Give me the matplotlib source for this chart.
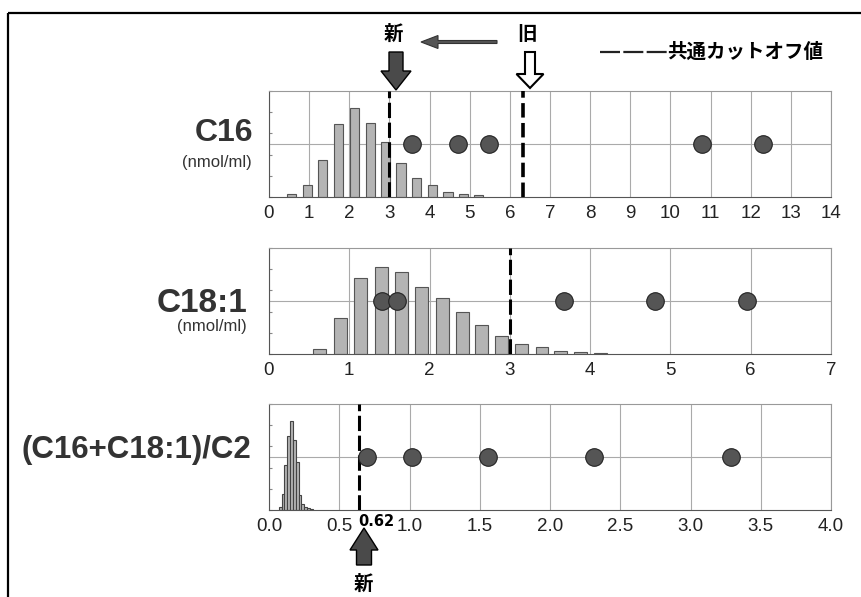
import numpy as np
import matplotlib.pyplot as plt
from matplotlib.patches import FancyArrow, Rectangle

plt.rcParams['font.family'] = ['Liberation Sans', 'Noto Sans CJK JP']

# C16 (nmol/ml)
c16_bins = [0.56, 0.95, 1.34, 1.73, 2.13, 2.52, 2.90, 3.29, 3.68, 4.07, 4.46, 4.85, 5.22]
c16_freq = [3, 11, 35, 69, 84, 70, 52, 32, 18, 11, 5, 3, 1.5]
c16_pts = [3.57, 4.72, 5.48, 10.78, 12.30]
c16_new, c16_old = 3.0, 6.32

# C18:1 (nmol/ml)
c181_bins = [0.63, 0.89, 1.14, 1.40, 1.65, 1.90, 2.16, 2.41, 2.65, 2.90, 3.15, 3.40, 3.63, 3.88, 4.13]
c181_freq = [4.7, 34, 72, 82, 77, 63, 53, 40, 27, 17, 9, 6.5, 3, 1.8, 0.8]
c181_pts = [1.41, 1.60, 3.67, 4.81, 5.95]
c181_new = 3.0

# (C16+C18:1)/C2
ratio_bins = [0.08, 0.10, 0.12, 0.14, 0.16, 0.18, 0.20, 0.22, 0.24, 0.26, 0.28, 0.30]
ratio_freq = [3, 15, 42, 70, 84, 66, 45, 14, 6, 3, 1.5, 0.8]
ratio_pts = [0.70, 1.02, 1.56, 2.31, 3.29]
ratio_new = 0.64

fig = plt.figure(figsize=(8.61, 5.97), dpi=100)

# overlay in pixel coords for frame, labels and arrows
ov = fig.add_axes([0, 0, 1, 1])
ov.set_xlim(0, 861)
ov.set_ylim(597, 0)
ov.axis('off')
ov.add_patch(Rectangle((8, 13), 900, 700, fill=False, ec='black', lw=1.6))


def panel(rect, bins, freq, width, pts, xmax, xticks, xlabels, edge):
    ax = fig.add_axes(rect)
    ax.bar(bins, freq, width=width, color='#b4b4b4', edgecolor=edge, linewidth=0.8, zorder=2)
    ax.scatter(pts, [50] * len(pts), s=160, color='#555555', edgecolor='#222222', linewidth=0.8, zorder=4)
    ax.set_xlim(0, xmax)
    ax.set_ylim(0, 100)
    ax.set_xticks(xticks)
    ax.set_xticklabels(xlabels, fontsize=13.5, color='#222222')
    ax.set_yticks(range(0, 101, 20))
    ax.set_yticklabels([])
    ax.tick_params(axis='x', length=0, pad=6)
    ax.tick_params(axis='y', direction='in', length=2, color='#888888')
    ax.grid(axis='x', color='#aaaaaa', linewidth=0.8, zorder=0)
    ax.axhline(50, color='#aaaaaa', linewidth=0.8, zorder=0)
    for s in ax.spines.values():
        s.set_color('#999999')
        s.set_linewidth(0.8)
    ax.spines['bottom'].set_color('#555555')
    ax.spines['left'].set_color('#555555')
    return ax


left, width = 269 / 861, 562 / 861
h = 106 / 597

ax1 = panel([left, 400 / 597, width, h], c16_bins, c16_freq, 0.23, c16_pts, 14,
            range(0, 15), [str(i) for i in range(15)], '#555555')
ax1.axvline(c16_new, color='black', lw=2.2, ls=(0, (5, 1.5)), zorder=3)
ax1.axvline(c16_old, color='black', lw=2.6, ls=(0, (4, 1.5)), zorder=3, clip_on=False)

ax2 = panel([left, 243 / 597, width, h], c181_bins, c181_freq, 0.16, c181_pts, 7,
            range(0, 8), [str(i) for i in range(8)], '#555555')
ax2.axvline(c181_new, color='black', lw=2.2, ls=(0, (5, 1.5)), zorder=3)

rt = np.arange(0, 4.01, 0.5)
ax3 = panel([left, 87 / 597, width, h], ratio_bins, ratio_freq, 0.02, ratio_pts, 4,
            rt, ['%.1f' % v for v in rt], '#444444')
ax3.axvline(ratio_new, color='black', lw=2.2, ls=(0, (5, 1.5)), zorder=3)

# row labels
ov.text(253, 133, 'C16', fontsize=23, fontweight='bold', color='#333333',
        ha='right', va='center')
ov.text(252, 162, '(nmol/ml)', fontsize=12, color='#333333', ha='right', va='center')
ov.text(247, 304, 'C18:1', fontsize=24, fontweight='bold', color='#333333',
        ha='right', va='center')
ov.text(247, 326, '(nmol/ml)', fontsize=12, color='#333333', ha='right', va='center')
ov.text(251, 450, '(C16+C18:1)/C2', fontsize=22.5, fontweight='bold', color='#333333',
        ha='right', va='center')

# arrows and notes
jp = ['Noto Sans CJK JP', 'DejaVu Sans']
ov.text(393, 34, '新', fontsize=14, fontweight='bold', ha='center', va='center', family=jp)
ov.text(527, 35, '旧', fontsize=14, fontweight='bold', ha='center', va='center', family=jp)
ov.add_patch(FancyArrow(497, 42, -76, 0, width=3, head_width=13, head_length=17,
                        length_includes_head=True, fc='#555555', ec='#333333', lw=0.8))
ov.add_patch(FancyArrow(396, 52, 0, 38, width=14, head_width=30, head_length=19,
                        length_includes_head=True, fc='#4a4a4a', ec='black', lw=1))
ov.add_patch(FancyArrow(530, 52, 0, 36, width=10, head_width=27, head_length=14,
                        length_includes_head=True, fc='white', ec='black', lw=1.5))

ov.plot([600, 670], [52, 52], color='#222222', lw=1.6, ls=(0, (9, 1.5)))
ov.text(667, 52, '共通カットオフ値', fontsize=14, fontweight='bold', ha='left', va='center', family=jp)

ov.text(376, 521, '0.62', fontsize=10.5, fontweight='bold', ha='center', va='center',
        family='DejaVu Sans')
ov.add_patch(FancyArrow(364, 565, 0, -37, width=15, head_width=28, head_length=22,
                        length_includes_head=True, fc='#4a4a4a', ec='black', lw=1))
ov.text(363, 584, '新', fontsize=14, fontweight='bold', ha='center', va='center', family=jp)

plt.savefig('out.png', dpi=100)
